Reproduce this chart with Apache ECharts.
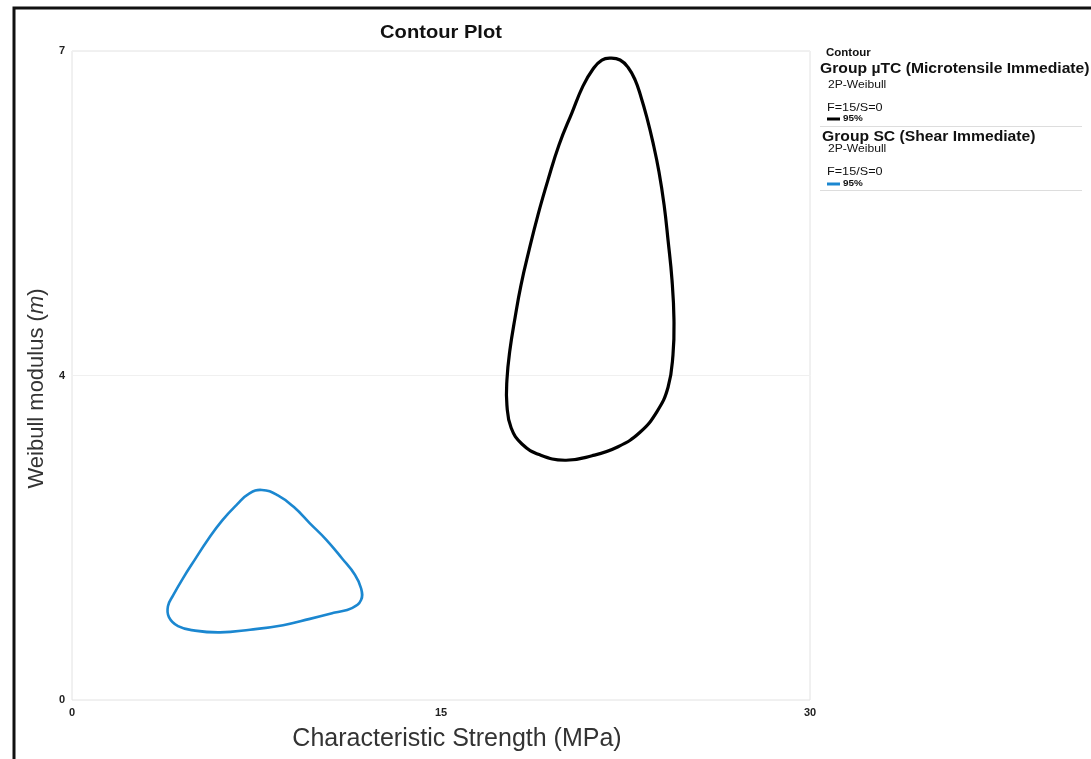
<!DOCTYPE html>
<html>
<head>
<meta charset="utf-8">
<script src="https://cdn.jsdelivr.net/npm/echarts@6/dist/echarts.min.js"></script>
<style>html,body{margin:0;padding:0;background:#fff;}#c{width:1091px;height:759px;}</style>
</head>
<body>
<div id="c"></div>
<script>
// Group µTC (Microtensile Immediate) 95% contour (closed loop, points in order)
const mtcStrength = [21.91, 22.28, 22.60, 22.89, 23.13, 23.37, 23.62, 23.86, 24.07, 24.23, 24.39, 24.47, 24.43, 24.23, 23.78, 23.09, 22.20, 21.14, 20.04, 19.02, 18.29, 17.85, 17.68, 17.68, 17.80, 18.01, 18.25, 18.58, 18.94, 19.35, 19.80, 20.33, 20.77, 21.18, 21.54];
const mtcModulus  = [7.12, 7.10, 7.02, 6.88, 6.69, 6.46, 6.18, 5.86, 5.49, 5.10, 4.66, 4.22, 3.83, 3.47, 3.20, 2.97, 2.81, 2.71, 2.66, 2.72, 2.84, 3.02, 3.27, 3.55, 3.88, 4.24, 4.60, 4.99, 5.38, 5.77, 6.16, 6.52, 6.81, 7.00, 7.10];
// Group SC (Shear Immediate) 95% contour (closed loop, points in order)
const scStrength = [7.72, 8.37, 9.02, 9.67, 10.33, 10.98, 11.50, 11.75, 11.75, 11.38, 10.69, 9.67, 8.58, 7.24, 6.02, 5.00, 4.31, 3.94, 3.90, 4.11, 4.51, 5.00, 5.53, 6.10, 6.71, 7.20];
const scModulus  = [2.33, 2.27, 2.14, 1.96, 1.78, 1.57, 1.39, 1.24, 1.11, 1.02, 0.97, 0.90, 0.83, 0.78, 0.75, 0.77, 0.82, 0.92, 1.04, 1.16, 1.35, 1.56, 1.78, 1.99, 2.17, 2.29];
// axes
const xMin = 0, xMax = 30, xStep = 15;
const yMin = 0, yMax = 7.2, yStep = 3.6;

const pairs = (xs, ys) => xs.map((x, i) => [x, ys[i]]);

const chart = echarts.init(document.getElementById('c'), null, {renderer: 'canvas'});
const FONT = '"Liberation Sans", Arial, sans-serif';

function txt(x, y, s, size, bold, sx) {
  return {
    type: 'text', x: x, y: y, scaleX: sx || 1,
    style: {text: s, fontFamily: FONT, fontSize: size, fontWeight: bold ? 'bold' : 'normal', fill: '#111', verticalAlign: 'middle', textVerticalAlign: 'middle'}
  };
}

function contourSeries(name, data, color, width) {
  return {
    name: name, type: 'custom', data: data, encode: {x: 0, y: 1},
    renderItem: function (params, api) {
      if (params.dataIndex !== 0) return null;
      const pts = data.map(p => api.coord(p));
      return {
        type: 'polygon',
        shape: {points: pts, smooth: 0.45},
        style: {fill: 'none', stroke: color, lineWidth: width}
      };
    }
  };
}

chart.setOption({
  backgroundColor: '#fff',
  animation: false,
  grid: {left: 72, right: 281, top: 51, bottom: 59, show: true, borderColor: '#e2e2e2', borderWidth: 1, containLabel: false},
  xAxis: {
    type: 'value', min: xMin, max: xMax, interval: xStep,
    name: 'Characteristic Strength (MPa)', nameLocation: 'middle', nameGap: 27,
    nameTextStyle: {fontFamily: FONT, fontSize: 25, color: '#333', padding: [0, 0, 0, 32]},
    axisLine: {show: false}, axisTick: {show: false}, splitLine: {show: false},
    axisLabel: {fontFamily: FONT, fontSize: 11, fontWeight: 'bold', color: '#222', margin: 7}
  },
  yAxis: {
    type: 'value', min: yMin, max: yMax, interval: yStep,
    name: 'Weibull modulus ({i|m})', nameLocation: 'middle', nameGap: 17,
    nameTextStyle: {fontFamily: FONT, fontSize: 22, color: '#333', padding: [0, 26, 0, 0],
      rich: {i: {fontFamily: FONT, fontSize: 22, fontStyle: 'italic', color: '#333'}}},
    axisLine: {show: false}, axisTick: {show: false},
    splitLine: {show: true, lineStyle: {color: '#f0f0f0', width: 1}},
    axisLabel: {fontFamily: FONT, fontSize: 11, fontWeight: 'bold', color: '#222', margin: 7,
      formatter: v => String(Math.round(v))}
  },
  series: [
    contourSeries('Group µTC (Microtensile Immediate)', pairs(mtcStrength, mtcModulus), '#000', 3.2),
    contourSeries('Group SC (Shear Immediate)', pairs(scStrength, scModulus), '#1b87d0', 2.6)
  ],
  graphic: [
    {type: 'rect', shape: {x: 14, y: 8, width: 1200, height: 900}, style: {fill: 'none', stroke: '#111', lineWidth: 3}},
    {type: 'text', x: 441, y: 33, scaleX: 1.15, style: {text: 'Contour Plot', fontFamily: FONT, fontSize: 17.5, fontWeight: 'bold', fill: '#111', align: 'center', verticalAlign: 'middle', textAlign: 'center', textVerticalAlign: 'middle'}},
    txt(826, 53, 'Contour', 10, true, 1.15),
    txt(820, 69, 'Group µTC (Microtensile Immediate)', 14, true, 1.12),
    txt(828, 85, '2P-Weibull', 11, false, 1.1),
    txt(827, 108, 'F=15/S=0', 11, false, 1.15),
    {type: 'line', shape: {x1: 827, y1: 119, x2: 840, y2: 119}, style: {stroke: '#000', lineWidth: 3}},
    txt(843, 119, '95%', 9, true, 1.1),
    {type: 'line', shape: {x1: 820, y1: 126.5, x2: 1082, y2: 126.5}, style: {stroke: '#ddd', lineWidth: 1}},
    txt(822, 137, 'Group SC (Shear Immediate)', 14, true, 1.12),
    txt(828, 149, '2P-Weibull', 11, false, 1.1),
    txt(827, 172, 'F=15/S=0', 11, false, 1.15),
    {type: 'line', shape: {x1: 827, y1: 184, x2: 840, y2: 184}, style: {stroke: '#1b87d0', lineWidth: 3}},
    txt(843, 184, '95%', 9, true, 1.1),
    {type: 'line', shape: {x1: 820, y1: 190.5, x2: 1082, y2: 190.5}, style: {stroke: '#ddd', lineWidth: 1}}
  ]
});
</script>
</body>
</html>
